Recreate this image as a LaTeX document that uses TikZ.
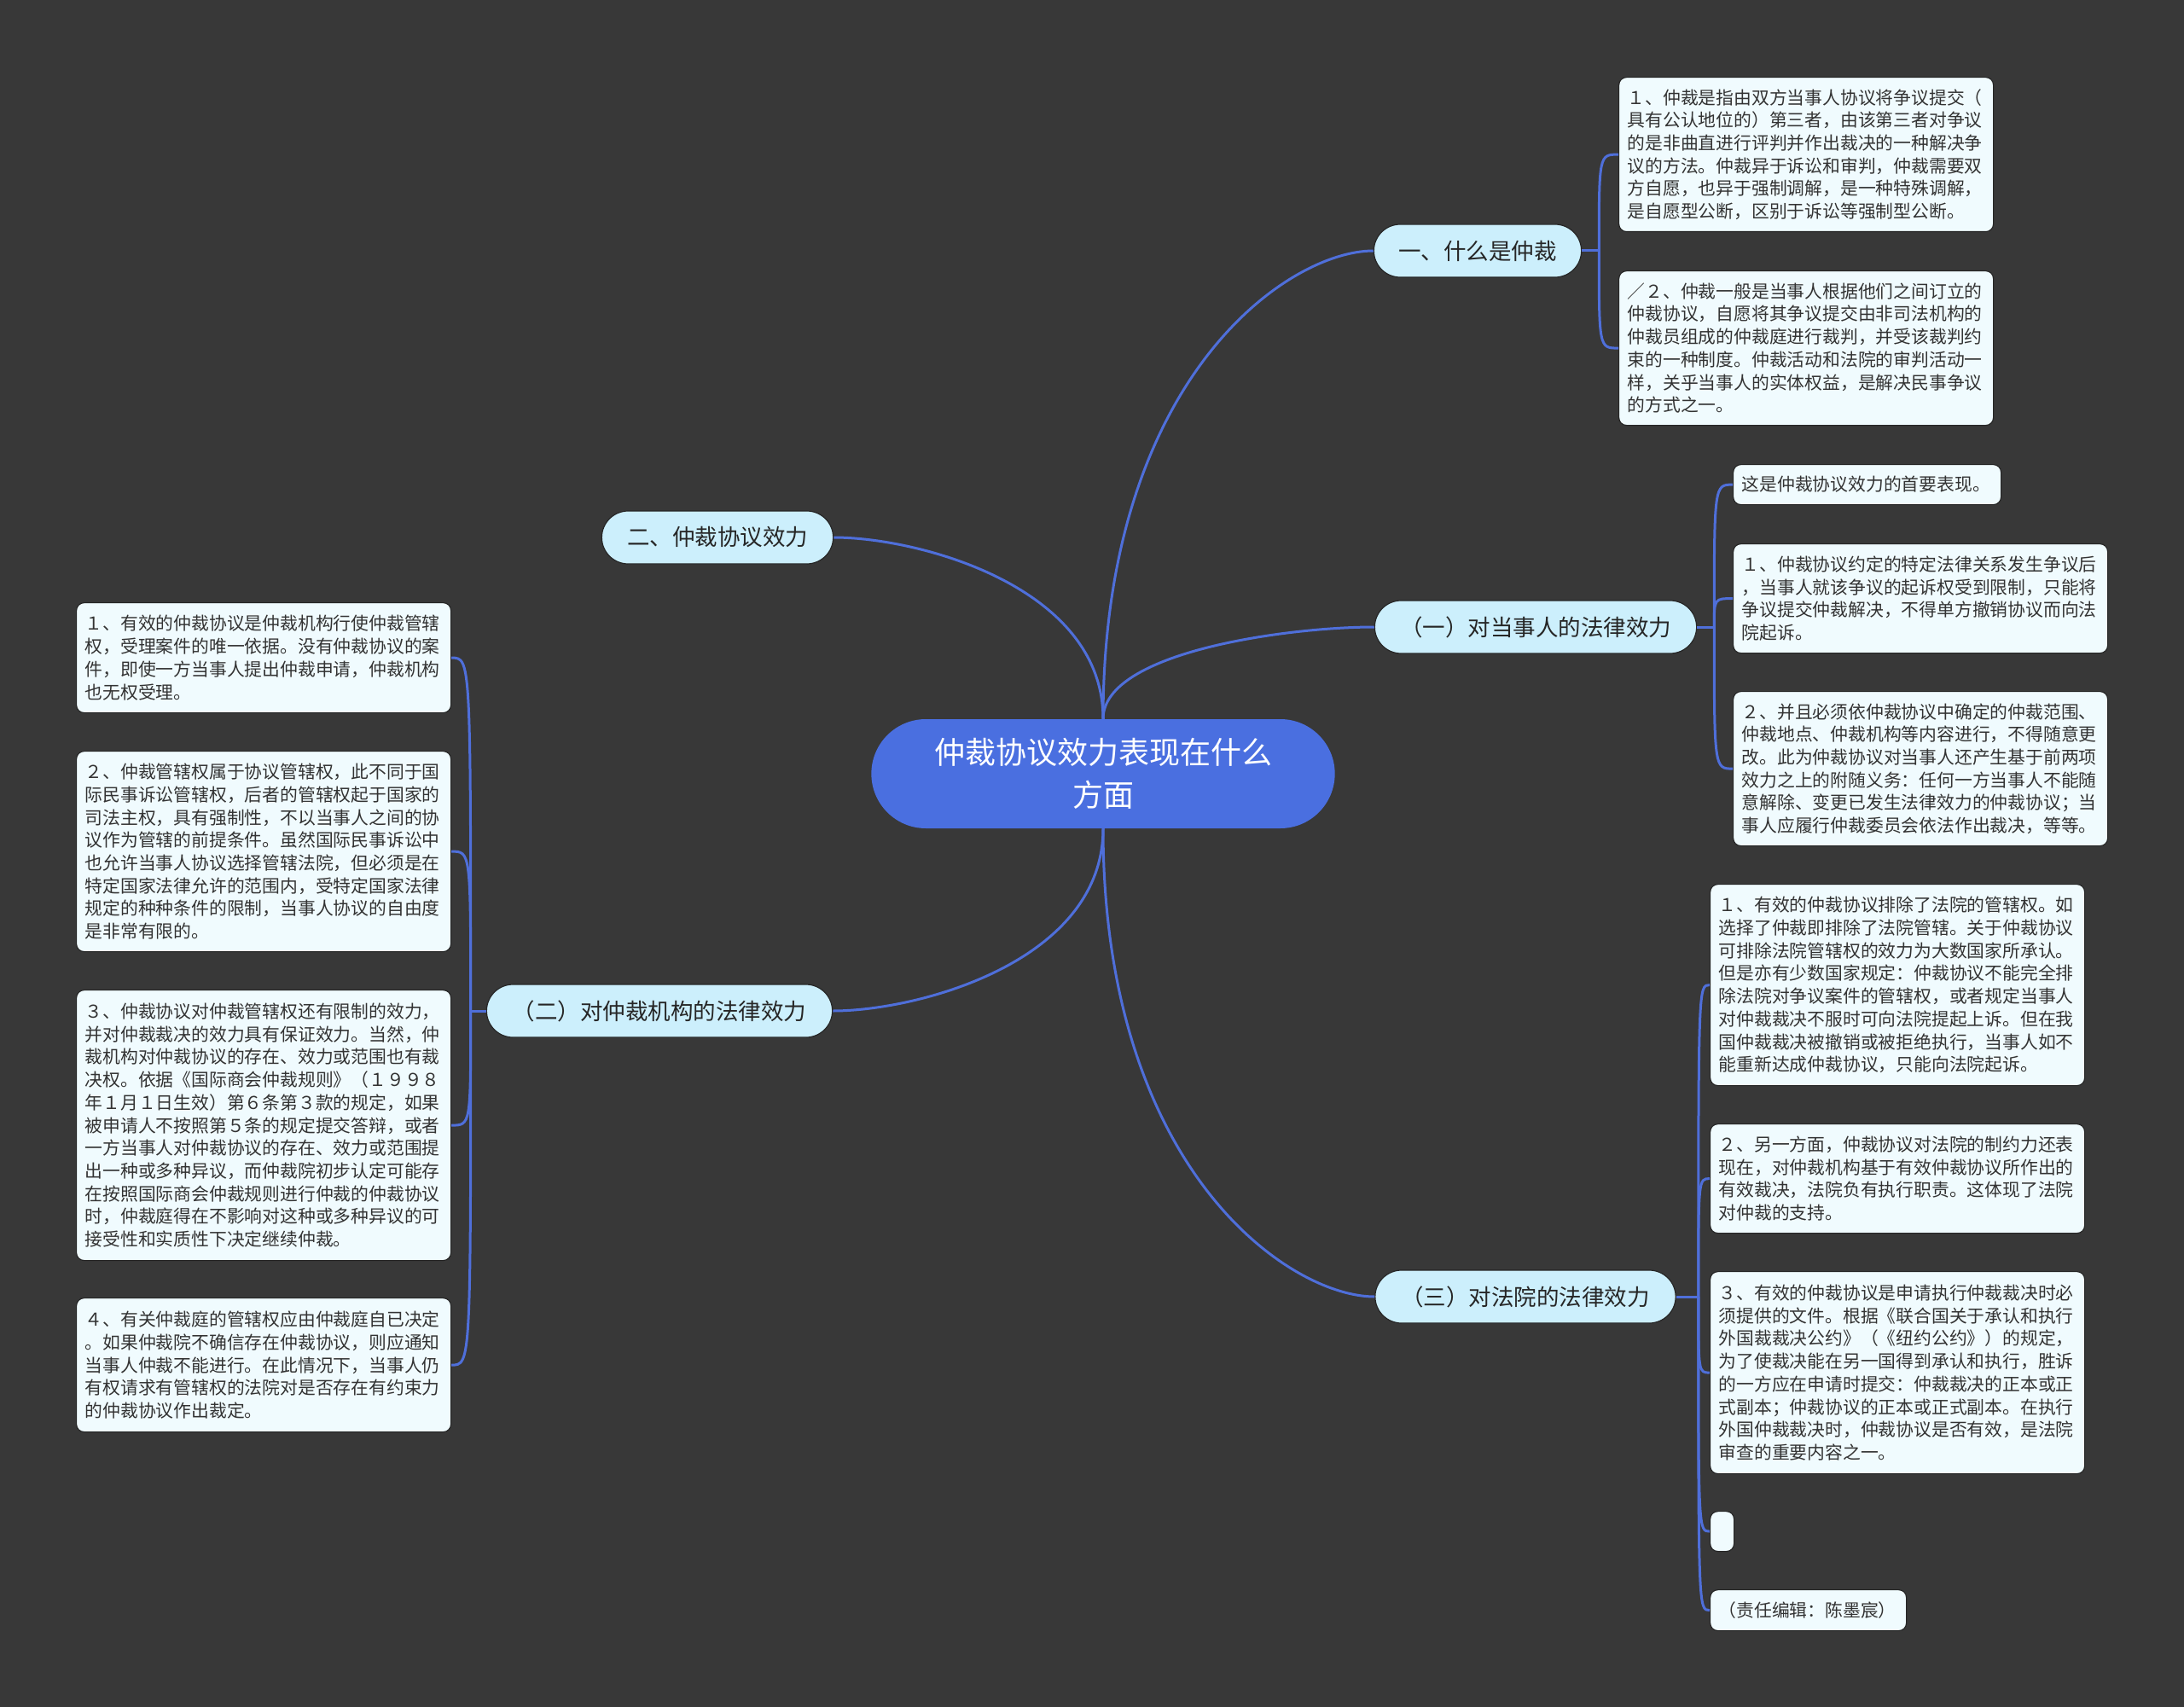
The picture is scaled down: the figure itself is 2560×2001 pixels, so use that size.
\documentclass[tikz,border=0pt]{standalone}
\usepackage{fontspec}
\setmainfont{Noto Sans CJK SC}
\usetikzlibrary{shapes.misc}
\definecolor{bgcol}{HTML}{383838}
\definecolor{rootcol}{HTML}{4A6FE0}
\definecolor{branchcol}{HTML}{CCEFFC}
\definecolor{leafcol}{HTML}{F0FBFE}
\definecolor{linkcol}{HTML}{4F6FDA}
\definecolor{edgecol}{HTML}{262626}

\begin{document}
\begin{tikzpicture}
 [x=1pt, y=-1pt,
  root node/.style={rounded rectangle, fill=rootcol, text=white, align=center, minimum width=550pt, minimum height=128pt, font=\fontsize{36pt}{50pt}\selectfont},
  branch node/.style={rounded rectangle, fill=branchcol, draw=edgecol, line width=1.2pt, text=black!85, minimum height=62pt, font=\fontsize{26.5pt}{32pt}\selectfont},
  leaf node/.style={anchor=north west, rounded corners=9pt, fill=leafcol, draw=edgecol, line width=1.2pt, text=black!80, text width=419pt, align=left, inner xsep=10pt, inner ysep=2pt, font=\fontsize{20.8pt}{26.7pt}\selectfont},
  link/.style={draw=linkcol, line width=3pt},
  mind link/.style 2 args={link, to path={.. controls +(#1) and +(#2) .. (\tikztotarget)}},
  brace link/.style={link, to path={.. controls (\tikztostart |- \tikztotarget) .. (\tikztotarget)}}]

\useasboundingbox (0,0) rectangle (2560,2001);
\fill[bgcol] (0,0) rectangle (2560,2001);

\node[root node] (root) at (1293,907) {仲裁协议效力表现在什么\\方面};

\node[branch node, minimum width=250pt] (b1) at (1732,294) {一、什么是仲裁};
\node[branch node, minimum width=278pt] (b2) at (841,630) {二、仲裁协议效力};
\node[branch node, minimum width=384pt] (b3) at (1800,735) {（一）对当事人的法律效力};
\node[branch node, minimum width=412pt] (b4) at (773,1185) {（二）对仲裁机构的法律效力};
\node[branch node, minimum width=359pt] (b5) at (1788,1520) {（三）对法院的法律效力};

% 一、什么是仲裁
\node[leaf node, minimum height=181pt] (a1) at (1897,90) {１、仲裁是指由双方当事人协议将争议提交（\\
具有公认地位的）第三者，由该第三者对争议\\
的是非曲直进行评判并作出裁决的一种解决争\\
议的方法。仲裁异于诉讼和审判，仲裁需要双\\
方自愿，也异于强制调解，是一种特殊调解，\\
是自愿型公断，区别于诉讼等强制型公断。};
\node[leaf node, minimum height=181pt] (a2) at (1897,317) {／２、仲裁一般是当事人根据他们之间订立的\\
仲裁协议，自愿将其争议提交由非司法机构的\\
仲裁员组成的仲裁庭进行裁判，并受该裁判约\\
束的一种制度。仲裁活动和法院的审判活动一\\
样，关乎当事人的实体权益，是解决民事争议\\
的方式之一。};

% （一）对当事人的法律效力
\node[leaf node, text width=294pt, minimum height=47pt] (c0) at (2031,544) {这是仲裁协议效力的首要表现。};
\node[leaf node, minimum height=128pt] (c1) at (2031,637) {１、仲裁协议约定的特定法律关系发生争议后\\
，当事人就该争议的起诉权受到限制，只能将\\
争议提交仲裁解决，不得单方撤销协议而向法\\
院起诉。};
\node[leaf node, minimum height=181pt] (c2) at (2031,810) {２、并且必须依仲裁协议中确定的仲裁范围、\\
仲裁地点、仲裁机构等内容进行，不得随意更\\
改。此为仲裁协议对当事人还产生基于前两项\\
效力之上的附随义务：任何一方当事人不能随\\
意解除、变更已发生法律效力的仲裁协议；当\\
事人应履行仲裁委员会依法作出裁决，等等。};

% （三）对法院的法律效力
\node[leaf node, minimum height=236pt] (e1) at (2004,1036) {１、有效的仲裁协议排除了法院的管辖权。如\\
选择了仲裁即排除了法院管辖。关于仲裁协议\\
可排除法院管辖权的效力为大数国家所承认。\\
但是亦有少数国家规定：仲裁协议不能完全排\\
除法院对争议案件的管辖权，或者规定当事人\\
对仲裁裁决不服时可向法院提起上诉。但在我\\
国仲裁裁决被撤销或被拒绝执行，当事人如不\\
能重新达成仲裁协议，只能向法院起诉。};
\node[leaf node, minimum height=128pt] (e2) at (2004,1317) {２、另一方面，仲裁协议对法院的制约力还表\\
现在，对仲裁机构基于有效仲裁协议所作出的\\
有效裁决，法院负有执行职责。这体现了法院\\
对仲裁的支持。};
\node[leaf node, minimum height=237pt] (e3) at (2004,1490) {３、有效的仲裁协议是申请执行仲裁裁决时必\\
须提供的文件。根据《联合国关于承认和执行\\
外国裁裁决公约》（《纽约公约》）的规定，\\
为了使裁决能在另一国得到承认和执行，胜诉\\
的一方应在申请时提交：仲裁裁决的正本或正\\
式副本；仲裁协议的正本或正式副本。在执行\\
外国仲裁裁决时，仲裁协议是否有效，是法院\\
审查的重要内容之一。};
\node[leaf node, text width=8pt, minimum height=47pt] (e4) at (2004,1771) {};
\node[leaf node, text width=210pt, minimum height=48pt] (e5) at (2004,1863) {（责任编辑：陈墨宸）};

% （二）对仲裁机构的法律效力
\node[leaf node, minimum height=129pt] (d1) at (89,706) {１、有效的仲裁协议是仲裁机构行使仲裁管辖\\
权，受理案件的唯一依据。没有仲裁协议的案\\
件，即使一方当事人提出仲裁申请，仲裁机构\\
也无权受理。};
\node[leaf node, minimum height=235pt] (d2) at (89,880) {２、仲裁管辖权属于协议管辖权，此不同于国\\
际民事诉讼管辖权，后者的管辖权起于国家的\\
司法主权，具有强制性，不以当事人之间的协\\
议作为管辖的前提条件。虽然国际民事诉讼中\\
也允许当事人协议选择管辖法院，但必须是在\\
特定国家法律允许的范围内，受特定国家法律\\
规定的种种条件的限制，当事人协议的自由度\\
是非常有限的。};
\node[leaf node, minimum height=317pt] (d3) at (89,1160) {３、仲裁协议对仲裁管辖权还有限制的效力，\\
并对仲裁裁决的效力具有保证效力。当然，仲\\
裁机构对仲裁协议的存在、效力或范围也有裁\\
决权。依据《国际商会仲裁规则》（１９９８\\
年１月１日生效）第６条第３款的规定，如果\\
被申请人不按照第５条的规定提交答辩，或者\\
一方当事人对仲裁协议的存在、效力或范围提\\
出一种或多种异议，而仲裁院初步认定可能存\\
在按照国际商会仲裁规则进行仲裁的仲裁协议\\
时，仲裁庭得在不影响对这种或多种异议的可\\
接受性和实质性下决定继续仲裁。};
\node[leaf node, minimum height=157pt] (d4) at (89,1521) {４、有关仲裁庭的管辖权应由仲裁庭自已决定\\
。如果仲裁院不确信存在仲裁协议，则应通知\\
当事人仲裁不能进行。在此情况下，当事人仍\\
有权请求有管辖权的法院对是否存在有约束力\\
的仲裁协议作出裁定。};

\coordinate (s1) at ([xshift=20pt]b1.east);
\coordinate (s3) at ([xshift=20pt]b3.east);
\coordinate (s4) at ([xshift=-18pt]b4.west);
\coordinate (s5) at ([xshift=26pt]b5.east);

\path
  (root.north) edge [mind link={0,-400}{-100,0}] (b1.west)
  (root.north) edge [mind link={0,-155}{100,0}]  (b2.east)
  (root.north) edge [mind link={0,-79}{-100,0}]  (b3.west)
  (root.south) edge [mind link={0,156}{100,0}]   (b4.east)
  (root.south) edge [mind link={0,400}{-100,0}]  (b5.west);

\path
  (b1.east) edge [link] (s1)
  (s1) edge [brace link] (a1.west)
  (s1) edge [brace link] (a2.west)
  (b3.east) edge [link] (s3)
  (s3) edge [brace link] (c0.west)
  (s3) edge [brace link] (c1.west)
  (s3) edge [brace link] (c2.west)
  (b4.west) edge [link] (s4)
  (s4) edge [brace link] (d1.east)
  (s4) edge [brace link] (d2.east)
  (s4) edge [brace link] (d3.east)
  (s4) edge [brace link] (d4.east)
  (b5.east) edge [link] (s5)
  (s5) edge [brace link] (e1.west)
  (s5) edge [brace link] (e2.west)
  (s5) edge [brace link] (e3.west)
  (s5) edge [brace link] (e4.west)
  (s5) edge [brace link] (e5.west);

\end{tikzpicture}
\end{document}
